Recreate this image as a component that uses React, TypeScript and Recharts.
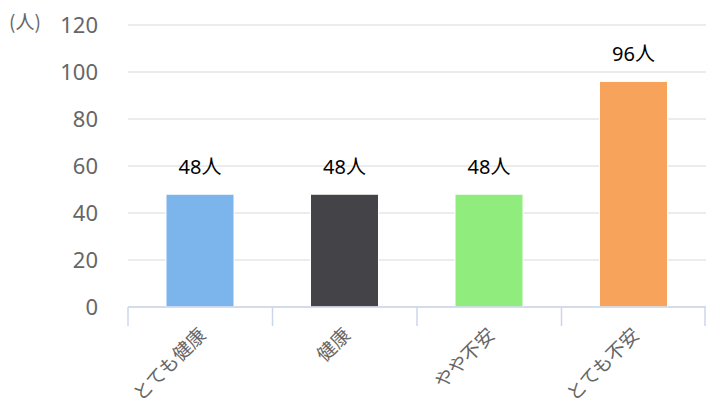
import React from 'react';
import { BarChart, Bar, XAxis, YAxis, CartesianGrid, Cell, LabelList } from 'recharts';

const categories = ['とても健康', '健康', 'やや不安', 'とても不安'];
const counts = [48, 48, 48, 96];
const barColors = ['#7cb5ec', '#434348', '#90ed7d', '#f7a35c'];
const yTicks = [0, 20, 40, 60, 80, 100, 120];
const unitLabel = '(人)';

const data = categories.map((name, i) => ({ name, value: counts[i] }));

const FONT = '"Noto Sans", "Noto Sans CJK JP", sans-serif';
const CJK_FONT = '"Noto Sans CJK JP", "Noto Sans", sans-serif';
const BAND = 144.5;

function CategoryTick(props: any) {
  const { x, y, payload, index } = props;
  return (
    <g>
      <line x1={x - BAND / 2} y1={y} x2={x - BAND / 2} y2={y + 19} stroke="#ccd6eb" strokeWidth={1.5} />
      {index === categories.length - 1 && (
        <line x1={x + BAND / 2 - 1} y1={y} x2={x + BAND / 2 - 1} y2={y + 19} stroke="#ccd6eb" strokeWidth={1.5} />
      )}
      <text
        x={x + 7}
        y={y + 29}
        textAnchor="end"
        transform={`rotate(-45, ${x + 7}, ${y + 29})`}
        fill="#666666"
        fontSize={19}
        fontFamily={CJK_FONT}
      >
        {payload.value}
      </text>
    </g>
  );
}

export default function App() {
  return (
    <div style={{ position: 'absolute', left: 0, top: 0, width: 706, height: 409, background: '#fff' }}>
      <BarChart
        width={706}
        height={409}
        data={data}
        margin={{ top: 25, right: 0, left: 0, bottom: 0 }}
        barCategoryGap={0}
      >
        <CartesianGrid horizontal vertical={false} stroke="#e6e6e6" strokeWidth={1.5} />
        <XAxis
          dataKey="name"
          height={102}
          interval={0}
          tickSize={0}
          tickMargin={0}
          tickLine={false}
          axisLine={{ stroke: '#ccd6eb', strokeWidth: 1.5 }}
          tick={<CategoryTick />}
        />
        <YAxis
          width={128}
          domain={[0, 120]}
          ticks={yTicks}
          axisLine={false}
          tickLine={false}
          tickSize={0}
          tickMargin={30}
          tick={{ fill: '#666666', fontSize: 22, fontFamily: FONT }}
        />
        <Bar dataKey="value" barSize={68} stroke="#ffffff" strokeWidth={1} isAnimationActive={false}>
          {data.map((d, i) => (
            <Cell key={d.name} fill={barColors[i]} />
          ))}
          <LabelList
            dataKey="value"
            position="top"
            offset={20}
            formatter={(v: any) => `${v}人`}
            fill="#000000"
            fontSize={20}
            fontFamily={FONT}
          />
        </Bar>
        <text x={9} y={29} fill="#666666" fontSize={19} fontFamily={CJK_FONT}>
          {unitLabel}
        </text>
      </BarChart>
    </div>
  );
}
